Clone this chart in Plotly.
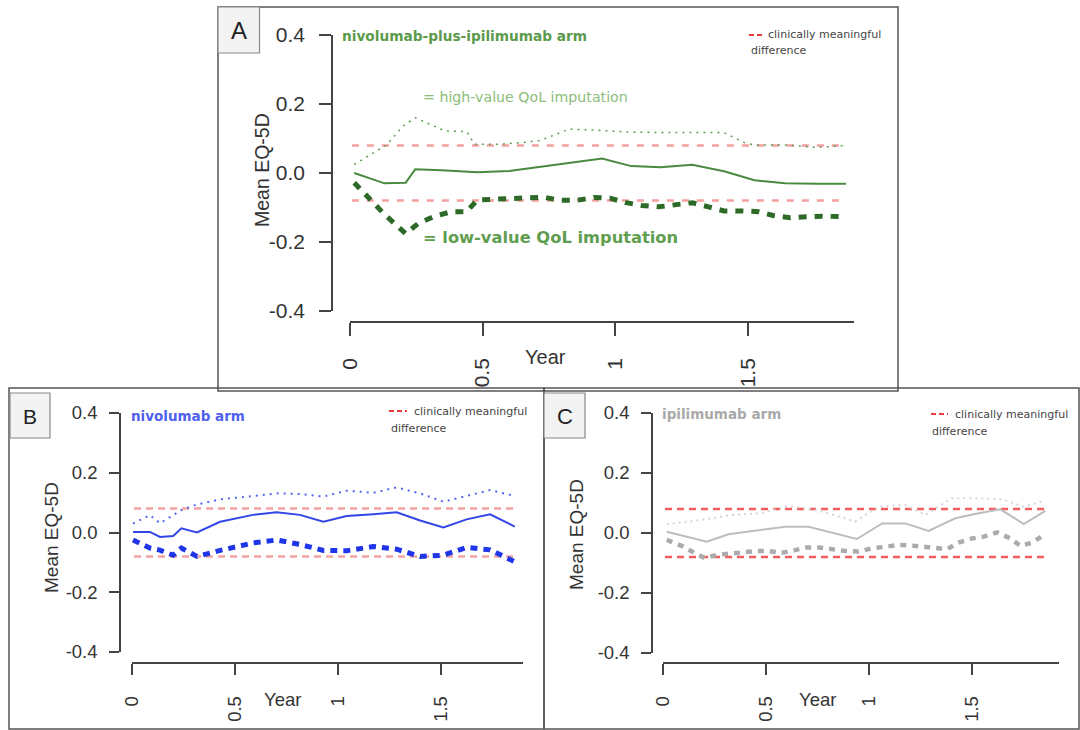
import plotly.graph_objects as go

W, H = 1080, 730

# ---------------- data ----------------
x_tick_vals = [0, 0.5, 1, 1.5]
x_tick_text = ["0", "0.5", "1", "1.5"]
y_tick_vals = [-0.4, -0.2, 0.0, 0.2, 0.4]
y_tick_text = ["-0.4", "-0.2", "0.0", "0.2", "0.4"]
mcid_levels = [0.08, -0.08]

# Panel A: nivolumab-plus-ipilimumab arm
a_solid_x = [0.016, 0.13, 0.21, 0.246, 0.345, 0.48, 0.60, 0.72, 0.85, 0.95, 1.06, 1.17, 1.29, 1.41, 1.525, 1.64, 1.765, 1.87]
a_solid_y = [0.0, -0.03, -0.028, 0.011, 0.008, 0.002, 0.006, 0.018, 0.033, 0.042, 0.02, 0.017, 0.024, 0.005, -0.021, -0.03, -0.031, -0.031]
a_high_x = [0.016, 0.136, 0.2, 0.246, 0.357, 0.44, 0.47, 0.547, 0.65, 0.72, 0.825, 0.93, 1.06, 1.185, 1.41, 1.487, 1.525, 1.65, 1.76, 1.87]
a_high_y = [0.025, 0.08, 0.136, 0.16, 0.122, 0.12, 0.083, 0.083, 0.088, 0.095, 0.127, 0.124, 0.118, 0.118, 0.117, 0.088, 0.081, 0.081, 0.074, 0.08]
a_low_x = [0.016, 0.067, 0.13, 0.21, 0.256, 0.32, 0.383, 0.44, 0.48, 0.547, 0.61, 0.667, 0.73, 0.79, 0.856, 0.92, 0.98, 1.04, 1.10, 1.165, 1.23, 1.29, 1.355, 1.41, 1.475, 1.54, 1.595, 1.66, 1.72, 1.78, 1.87]
a_low_y = [-0.028, -0.071, -0.12, -0.176, -0.147, -0.125, -0.112, -0.112, -0.078, -0.076, -0.074, -0.07, -0.07, -0.079, -0.079, -0.071, -0.073, -0.086, -0.094, -0.098, -0.092, -0.086, -0.099, -0.11, -0.11, -0.112, -0.123, -0.13, -0.127, -0.125, -0.127]
a_mcid_x = [0.007, 1.87]

# Panel B: nivolumab arm
b_x = [0.005, 0.087, 0.136, 0.2, 0.24, 0.316, 0.428, 0.588, 0.703, 0.816, 0.93, 1.043, 1.172, 1.286, 1.40, 1.513, 1.626, 1.74, 1.86]
b_solid_y = [0.002, 0.002, -0.015, -0.012, 0.014, 0.0, 0.036, 0.059, 0.068, 0.059, 0.036, 0.055, 0.061, 0.068, 0.04, 0.017, 0.044, 0.061, 0.02]
b_high_y = [0.03, 0.058, 0.031, 0.058, 0.075, 0.094, 0.111, 0.122, 0.131, 0.129, 0.12, 0.14, 0.133, 0.151, 0.131, 0.103, 0.122, 0.142, 0.122]
b_low_y = [-0.025, -0.052, -0.059, -0.076, -0.052, -0.08, -0.06, -0.035, -0.025, -0.04, -0.06, -0.061, -0.047, -0.056, -0.08, -0.076, -0.05, -0.058, -0.098]
b_mcid_x = [0.01, 1.87]

# Panel C: ipilimumab arm
c_solid_x = [0.018, 0.212, 0.317, 0.479, 0.592, 0.705, 0.94, 1.062, 1.175, 1.288, 1.417, 1.53, 1.636, 1.749, 1.854]
c_solid_y = [0.004, -0.029, -0.004, 0.01, 0.021, 0.021, -0.02, 0.032, 0.032, 0.007, 0.049, 0.066, 0.079, 0.03, 0.074]
c_high_x = [0.018, 0.115, 0.212, 0.333, 0.479, 0.6, 0.705, 0.8, 0.932, 1.045, 1.175, 1.272, 1.40, 1.53, 1.644, 1.749, 1.854]
c_high_y = [0.029, 0.038, 0.046, 0.06, 0.066, 0.09, 0.082, 0.066, 0.038, 0.088, 0.093, 0.06, 0.116, 0.116, 0.112, 0.088, 0.108]
c_low_x = [0.018, 0.091, 0.147, 0.204, 0.26, 0.325, 0.39, 0.455, 0.511, 0.576, 0.641, 0.698, 0.754, 0.819, 0.883, 0.948, 1.013, 1.078, 1.142, 1.207, 1.264, 1.32, 1.377, 1.433, 1.499, 1.555, 1.62, 1.684, 1.733, 1.79, 1.854]
c_low_y = [-0.023, -0.043, -0.064, -0.084, -0.073, -0.068, -0.062, -0.06, -0.06, -0.066, -0.057, -0.048, -0.048, -0.054, -0.06, -0.062, -0.051, -0.046, -0.04, -0.042, -0.046, -0.051, -0.054, -0.032, -0.018, -0.012, 0.002, -0.018, -0.043, -0.032, -0.004]
c_mcid_x = [0.01, 1.854]

# ---------------- helpers ----------------
SANS = "Liberation Sans, Arial, sans-serif"
WIDE = "DejaVu Sans, Verdana, sans-serif"
AXC = "#444444"


def px(v):
    return v / W


def py(v):
    return 1 - v / H


def xaxis(x0, x1, ypos, xmax, fs, tlen, stand):
    return dict(domain=[px(x0), px(x1)], range=[0, xmax], anchor="free", position=py(ypos),
                tickmode="array", tickvals=x_tick_vals, ticktext=x_tick_text, tickangle=-90,
                ticks="outside", ticklen=tlen, tickwidth=1.5, tickcolor=AXC,
                showline=True, linecolor=AXC, linewidth=1.5, showgrid=False, zeroline=False,
                automargin=False,
                tickfont=dict(family=SANS, size=fs, color="#333333"), ticklabelstandoff=stand,
                fixedrange=True)


def yaxis(ytop, ybot, xpos, fs, tlen, stand):
    return dict(domain=[py(ybot), py(ytop)], range=[-0.4, 0.4], anchor="free", position=px(xpos),
                tickmode="array", tickvals=y_tick_vals, ticktext=y_tick_text,
                ticks="outside", ticklen=tlen, tickwidth=1.5, tickcolor=AXC,
                showline=True, linecolor=AXC, linewidth=1.5, showgrid=False, zeroline=False,
                automargin=False,
                tickfont=dict(family=SANS, size=fs, color="#333333"), ticklabelstandoff=stand,
                fixedrange=True)


fig = go.Figure()


def add_panel(xa, ya, mcid_x, mcid_col, mcid_dash, series):
    for lvl in mcid_levels:
        fig.add_trace(go.Scatter(x=mcid_x, y=[lvl, lvl], mode="lines", xaxis=xa, yaxis=ya,
                                 line=dict(color=mcid_col, width=2.5, dash=mcid_dash),
                                 showlegend=False, hoverinfo="skip"))
    for sx, sy, col, w, dash in series:
        fig.add_trace(go.Scatter(x=sx, y=sy, mode="lines", xaxis=xa, yaxis=ya,
                                 line=dict(color=col, width=w, dash=dash),
                                 showlegend=False))


add_panel("x", "y", a_mcid_x, "#f4a0a0", "7px,8px", [
    (a_high_x, a_high_y, "#5f9a55", 1.5, "2px,5px"),
    (a_solid_x, a_solid_y, "#4a8a40", 2, "solid"),
    (a_low_x, a_low_y, "#2d6a28", 5, "8px,8px"),
])
add_panel("x2", "y2", b_mcid_x, "#f4a3a3", "7px,5px", [
    (b_x, b_high_y, "#5566ee", 2, "2px,5px"),
    (b_x, b_solid_y, "#3346e6", 2, "solid"),
    (b_x, b_low_y, "#1f35e8", 5, "7px,6px"),
])
add_panel("x3", "y3", c_mcid_x, "#f25c5c", "7px,5px", [
    (c_high_x, c_high_y, "#d6d6d6", 2, "2px,4px"),
    (c_solid_x, c_solid_y, "#bdbdbd", 2, "solid"),
    (c_low_x, c_low_y, "#ababab", 4.5, "6px,6px"),
])

layout = dict(
    template="none",
    width=W, height=H, margin=dict(l=0, r=0, t=0, b=0, pad=0, autoexpand=False),
    paper_bgcolor="white", plot_bgcolor="white", showlegend=False,
    xaxis=xaxis(350, 854, 322, 1.9, 21, 13, 14),
    yaxis=yaxis(35, 311, 332, 21, 12, 10),
    xaxis2=xaxis(132, 523, 663, 1.9, 18.5, 11, 14),
    yaxis2=yaxis(413, 652, 120, 18.5, 10, 8),
    xaxis3=xaxis(663, 1059, 663, 1.92, 18.5, 11, 14),
    yaxis3=yaxis(413, 653, 652, 18.5, 10, 8),
)
fig.update_layout(**layout)

shapes = []


def rect(x0, y0, x1, y1, line="#555555", lw=1.5, fill="rgba(0,0,0,0)"):
    shapes.append(dict(type="rect", xref="paper", yref="paper", x0=px(x0), x1=px(x1),
                       y0=py(y1), y1=py(y0), line=dict(color=line, width=lw), fillcolor=fill))


# panel frames
rect(9, 388, 544, 729)
rect(544, 388, 1079, 729)
rect(218, 7, 898, 391)
# label boxes
rect(218, 7, 259.5, 53, line="#8a8a8a", lw=1.2, fill="#f3f3f3")
rect(10, 393, 50, 438, line="#8a8a8a", lw=1.2, fill="#f3f3f3")
rect(544, 393, 585, 438, line="#8a8a8a", lw=1.2, fill="#f3f3f3")

# legend dash samples
for x0, x1, yy in [(749, 764, 35), (389, 407, 411), (931, 948, 414)]:
    shapes.append(dict(type="line", xref="paper", yref="paper", x0=px(x0), x1=px(x1),
                       y0=py(yy), y1=py(yy), line=dict(color="#ee3b3b", width=2, dash="5px,3px")))
fig.update_layout(shapes=shapes)

ann = []


def text(t, x, y, size, color="#333333", family=SANS, xanchor="center", angle=0):
    ann.append(dict(text=t, x=px(x), y=py(y), xref="paper", yref="paper", showarrow=False,
                    xanchor=xanchor, yanchor="middle", textangle=angle,
                    font=dict(family=family, size=size, color=color)))


# panel letters
text("A", 238.5, 31, 24, "#222222")
text("B", 30, 416, 21, "#222222")
text("C", 564.5, 416, 22, "#222222")

# titles
text("<b>nivolumab-plus-ipilimumab arm</b>", 340, 36, 13.7, "#5b9a4b", WIDE, "left")
text("<b>nivolumab arm</b>", 129, 416, 13.5, "#4f5fef", WIDE, "left")
text("<b>ipilimumab arm</b>", 660, 414, 13.5, "#a9a9a9", WIDE, "left")

# imputation notes in A
text("= high-value QoL imputation", 421, 97, 14.2, "#8cbd7c", WIDE, "left")
text("<b>= low-value QoL imputation</b>", 421, 237, 16.3, "#5f9e4f", WIDE, "left")

# legend texts
for lx, ly, dx, dy in [(766, 35, 749, 51), (412, 411, 389, 428), (952.5, 414, 930, 431)]:
    text("clinically meaningful", lx, ly, 11, "#444444", WIDE, "left")
    text("difference", dx, dy, 11, "#444444", WIDE, "left")

# axis titles
text("Mean EQ-5D", 262, 170, 19.5, "#333333", SANS, "center", -90)
text("Mean EQ-5D", 51, 538, 19, "#333333", SANS, "center", -90)
text("Mean EQ-5D", 576, 535, 19, "#333333", SANS, "center", -90)
text("Year", 545.5, 357, 20)
text("Year", 282, 699, 18.5)
text("Year", 817, 699, 18.5)

fig.update_layout(annotations=ann)

fig.write_html("out.html", config={"displayModeBar": False},
               post_script="document.body.style.margin='0';document.body.style.overflow='hidden';")
